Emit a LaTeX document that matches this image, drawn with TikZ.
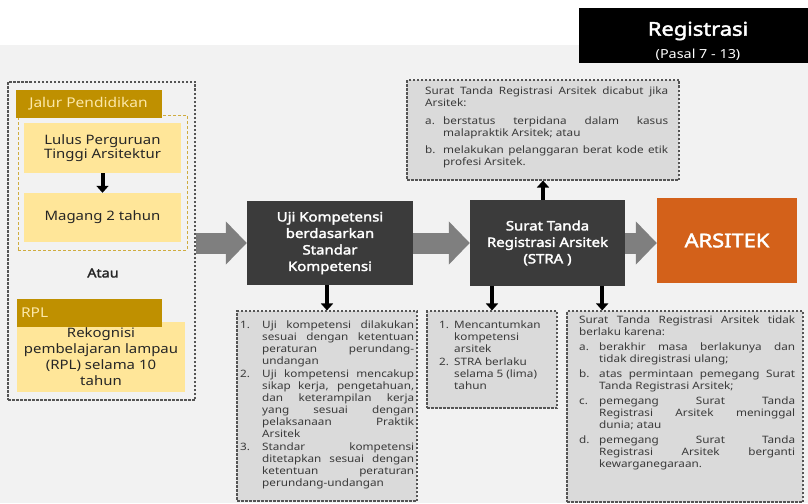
\documentclass[tikz,border=0pt]{standalone}
\usepackage{fontspec}
\setmainfont{Noto Sans}[FakeStretch=1.15, BoldFont={Noto Sans}, BoldFeatures={FakeBold=2.2}]
\usetikzlibrary{arrows.meta}

\definecolor{bggrey}{HTML}{F2F2F2}
\definecolor{boxdark}{HTML}{3B3B3B}
\definecolor{gold}{HTML}{BF9000}
\definecolor{paleyel}{HTML}{FFE699}
\definecolor{palehead}{HTML}{FCE8A8}
\definecolor{listgrey}{HTML}{DADADA}
\definecolor{dashgrey}{HTML}{555555}
\definecolor{arrgrey}{HTML}{7F7F7F}
\definecolor{orng}{HTML}{D3611A}
\definecolor{txtdark}{HTML}{262626}
\definecolor{txtlist}{HTML}{3A3A3A}

\tolerance=10000
\hbadness=10000
\hyphenpenalty=10000
\lineskip=0pt

% one list entry: width of the label column, label, text
\newcommand{\litem}[3]{\par\noindent\makebox[#1][l]{\strut#2}\parbox[t]{\dimexpr\linewidth-#1\relax}{\strut#3\strut}\par}

\begin{document}
\begin{tikzpicture}[x=1pt, y=-1pt,
  darkbox/.style={fill=boxdark, text=white, font=\fontsize{13}{16.5}\selectfont\bfseries, align=center, inner sep=0pt},
  listbox/.style={draw=dashgrey, fill=listgrey, dash pattern=on 2.5pt off 1.5pt, line width=1.1pt, inner sep=0pt},
  listtxt/.style={anchor=north west, inner sep=0pt, align=justify, text=txtlist, font=\fontsize{10.2}{12}\selectfont},
  yelbox/.style={fill=paleyel, text=txtdark, align=center, inner sep=0pt, font=\fontsize{13}{14.5}\selectfont},
  goldhead/.style={fill=gold, text=palehead, inner sep=0pt, font=\fontsize{13.5}{16}\selectfont},
  bigarr/.style={draw=arrgrey, line width=21pt, -{Triangle[length=21pt, width=42pt]}},
  smallarr/.style={draw=black, line width=4pt, -{Triangle[length=7pt, width=12pt]}}]
\clip (0,0) rectangle (808,503);
\fill[white] (0,0) rectangle (808,503);
\fill[bggrey] (0,45) rectangle (808,503);

% header
\node[fill=black, minimum width=240pt, minimum height=55pt, inner sep=0pt] (head) at (699,35.5) {};
\node[text=white, font=\fontsize{19}{22}\selectfont\bfseries, inner sep=0pt] (title) at (698,31) {Registrasi};
\node[text=white, font=\fontsize{12.5}{14}\selectfont, inner sep=0pt] (pasal) at (698,55) {(Pasal 7 - 13)};

% left column
\node[draw=dashgrey, dash pattern=on 2.5pt off 1.5pt, line width=1.1pt, minimum width=187pt, minimum height=318pt, inner sep=0pt] (jalur) at (101.5,241) {};
\node[draw=gold!75, dash pattern=on 3pt off 2pt, line width=1pt, minimum width=169pt, minimum height=135pt, inner sep=0pt] (pend) at (102.5,182.5) {};
\node[goldhead, minimum width=146pt, minimum height=28pt] (pendhead) at (88.5,104) {Jalur Pendidikan};
\node[yelbox, minimum width=157pt, minimum height=50pt] (lulus) at (102.5,148) {Lulus Perguruan\\Tinggi Arsitektur};
\node[yelbox, minimum width=157pt, minimum height=49pt] (magang) at (102.5,217.5) {Magang 2 tahun};
\draw[smallarr] (lulus.south) -- (magang.north);
\node[text=txtdark, font=\fontsize{12.5}{15}\selectfont\bfseries] (atau) at (103,273) {Atau};
\node[yelbox, minimum width=168pt, minimum height=70pt, font=\fontsize{13}{16}\selectfont] (rpl) at (101,357) {Rekognisi\\pembelajaran lampau\\(RPL) selama 10\\tahun};
\node[goldhead, minimum width=145pt, minimum height=28pt, text width=137pt, align=left] (rplhead) at (89.5,313) {RPL};

% main row
\node[darkbox, minimum width=166pt, minimum height=84pt] (uji) at (330,243) {Uji Kompetensi\\berdasarkan\\Standar\\Kompetensi};
\node[darkbox, minimum width=155pt, minimum height=86pt] (stra) at (547.5,243) {Surat Tanda\\Registrasi Arsitek\\(STRA )};
\node[darkbox, fill=orng, minimum width=140pt, minimum height=85pt, font=\fontsize{19}{22}\selectfont\bfseries] (arsitek) at (727,240.5) {ARSITEK};
\draw[bigarr] (uji.west -| jalur.east) -- (uji.west);
\draw[bigarr] (uji.east) -- (stra.west);
\draw[bigarr] (stra.east) -- (stra.east -| arsitek.west);

% notes
\node[listbox, minimum width=272pt, minimum height=100pt] (cabut) at (543,130) {};
\node[listbox, minimum width=180pt, minimum height=190pt] (ujiket) at (327,406) {};
\node[listbox, minimum width=130pt, minimum height=97pt] (straket) at (492,359.5) {};
\node[listbox, minimum width=236pt, minimum height=191pt] (tidak) at (685,406.5) {};

\node[listtxt, text width=243pt] (cabuttxt) at (425,87) {\noindent Surat Tanda Registrasi Arsitek dicabut jika\linebreak Arsitek:\par\vspace{6pt}
\litem{18pt}{a.}{berstatus terpidana dalam kasus\linebreak malapraktik Arsitek; atau}\vspace{4pt}
\litem{18pt}{b.}{melakukan pelanggaran berat kode etik\linebreak profesi Arsitek.}};
\node[listtxt, text width=174pt] (ujikettxt) at (240,316) {\litem{22pt}{1.}{Uji kompetensi dilakukan\linebreak sesuai dengan ketentuan\linebreak peraturan perundang-\linebreak undangan}
\litem{22pt}{2.}{Uji kompetensi mencakup\linebreak sikap kerja, pengetahuan,\linebreak dan keterampilan kerja\linebreak yang sesuai dengan\linebreak pelaksanaan Praktik\linebreak Arsitek}
\litem{22pt}{3.}{Standar kompetensi\linebreak ditetapkan sesuai dengan\linebreak ketentuan peraturan\linebreak perundang-undangan}};
\node[listtxt, text width=116pt] (straktxt) at (439,316) {\litem{15pt}{1.}{\raggedright Mencantumkan\\ kompetensi\\ arsitek}
\litem{15pt}{2.}{\raggedright STRA berlaku\\ selama 5 (lima)\\ tahun}};
\node[listtxt, text width=216pt] (tidaktxt) at (579,316) {\noindent Surat Tanda Registrasi Arsitek tidak\linebreak berlaku karena:\par\vspace{3pt}
\litem{20pt}{a.}{berakhir masa berlakunya dan\linebreak tidak diregistrasi ulang;}\vspace{2pt}
\litem{20pt}{b.}{atas permintaan pemegang Surat\linebreak Tanda Registrasi Arsitek;}\vspace{2pt}
\litem{20pt}{c.}{pemegang Surat Tanda\linebreak Registrasi Arsitek meninggal\linebreak dunia; atau}\vspace{2pt}
\litem{20pt}{d.}{pemegang Surat Tanda\linebreak Registrasi Arsitek berganti\linebreak kewarganegaraan.}};

\draw[smallarr] (cabut.south |- stra.north) -- (cabut.south);
\draw[smallarr] (ujiket.north |- uji.south) -- (ujiket.north);
\draw[smallarr] (straket.north |- stra.south) -- (straket.north);
\coordinate (strab) at ([xshift=-23pt]stra.south east);
\draw[smallarr] (strab) -- (strab |- tidak.north);
\end{tikzpicture}
\end{document}
